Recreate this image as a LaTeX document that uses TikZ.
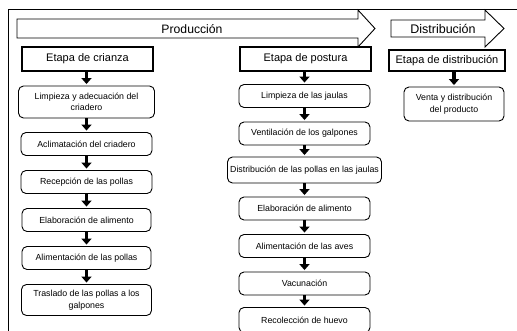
\documentclass[tikz,border=0pt]{standalone}
\usepackage{fontspec}
\setmainfont{Liberation Sans}
\usepackage{tikz}
\usetikzlibrary{arrows.meta, positioning, calc}

\begin{document}
\begin{tikzpicture}[x=1pt,y=-1pt,
    etapa/.style={draw,line width=1.1pt,fill=white,inner sep=0pt,minimum height=24pt,font=\fontsize{11}{13}\selectfont},
    paso/.style={draw,line width=0.9pt,rounded corners=5pt,fill=white,inner sep=0pt,align=center,font=\fontsize{8.8}{11.5}\selectfont},
    flecha/.style={line width=3.5pt,-{Triangle[width=10pt,length=6pt]},shorten >=1.5pt},
    banner/.style={draw,line width=0.9pt,fill=white,line join=miter}]
    \useasboundingbox (0,0) rectangle (517,330);
    \clip (0,0) rectangle (517,330);

    % draw the outer frame
    \draw[line width=0.8pt] (8,331) -- (8,9) -- (517,9);

    % draw the two big arrows
    \draw[banner] (17,19) -- (358,19) -- (358,10) -- (375,28.5) -- (358,47) -- (358,38) -- (17,38) -- cycle;
    \node[font=\fontsize{12.2}{14}\selectfont] (prod) at (192,29) {Producción};
    \draw[banner] (391,20) -- (485,20) -- (485,10) -- (504,28.5) -- (485,47) -- (485,37) -- (391,37) -- cycle;
    \node[font=\fontsize{12.5}{14}\selectfont] (dist) at (443,28.5) {Distribución};

    % draw the stage headings
    \node[etapa,minimum width=131pt] (etcr) at (87.5,59) {Etapa de crianza};
    \node[etapa,minimum width=131pt] (etpo) at (305.5,59) {Etapa de postura};
    \node[etapa,minimum width=116pt,minimum height=21pt] (etdi) at (447,60.5) {Etapa de distribución};

    % steps of the first stage
    \foreach \i/\y/\w/\h/\xtext in {
      1/102/136/32/{Limpieza y adecuación del\\criadero},
      2/144/131/23/{Aclimatación del criadero},
      3/182/131/23/{Recepción de las pollas},
      4/220/129/23/{Elaboración de alimento},
      5/258/129/23/{Alimentación de las pollas},
      6/300/130/31/{Traslado de las pollas a los\\galpones}}
    \node[paso,minimum width=\w pt,minimum height=\h pt] (cr\i) at (86.5,\y) {\xtext};

    % steps of the second stage
    \foreach \i/\y/\w/\h/\xtext in {
      1/96/131/23/{Limpieza de las jaulas},
      2/133.5/131/23/{Ventilación de los galpones},
      3/170/154/26/{Distribución de las pollas en las jaulas},
      4/208.5/131/23/{Elaboración de alimento},
      5/246/131/23/{Alimentación de las aves},
      6/283.5/131/23/{Vacunación},
      7/320/131/25/{Recolección de huevo}}
    \node[paso,minimum width=\w pt,minimum height=\h pt] (po\i) at (304.5,\y) {\xtext};

    % the only step of the third stage
    \node[paso,minimum width=100pt,minimum height=34pt] (venta) at (454,104) {Venta y distribución\\del producto};

    % draw the arrows between the boxes
    \draw[flecha] (etcr.south -| cr1) -- (cr1.north);
    \foreach \a/\b in {1/2,2/3,3/4,4/5,5/6}
      \draw[flecha] (cr\a.south) -- (cr\b.north);
    \draw[flecha] (etpo.south -| po1) -- (po1.north);
    \foreach \a/\b in {1/2,2/3,3/4,4/5,5/6,6/7}
      \draw[flecha] (po\a.south) -- (po\b.north);
    \draw[flecha] (etdi.south -| venta) -- (venta.north);
  \end{tikzpicture}
\end{document}
